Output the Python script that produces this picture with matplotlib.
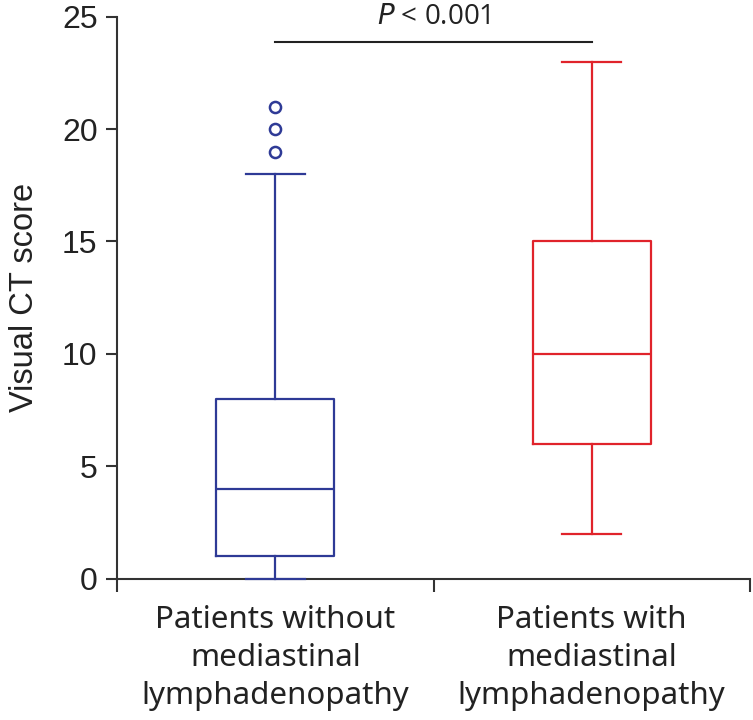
import numpy as np
import matplotlib.pyplot as plt

# box plot summary values
groups = ['Patients without\nmediastinal\nlymphadenopathy',
          'Patients with\nmediastinal\nlymphadenopathy']
whislo = [0, 2]
q1 = [1, 6]
med = [4, 10]
q3 = [8, 15]
whishi = [18, 23]
fliers = [[19, 20, 21], []]
colors = ['#2E3A96', '#E0232B']
p_text = '$\\it{P}$ < 0.001'

fig = plt.figure(figsize=(7.53, 7.2), dpi=100)
ax = fig.add_axes([0.1554, 0.196, 0.8406, 0.781])

for i in range(2):
    st = [{'whislo': whislo[i], 'q1': q1[i], 'med': med[i], 'q3': q3[i],
           'whishi': whishi[i], 'fliers': fliers[i]}]
    c = colors[i]
    bp = ax.bxp(st, positions=[i + 1], widths=0.373, showfliers=True,
                boxprops=dict(color=c, linewidth=1.6),
                medianprops=dict(color=c, linewidth=1.6),
                whiskerprops=dict(color=c, linewidth=1.6),
                capprops=dict(color=c, linewidth=1.6),
                capwidths=0.186,
                flierprops=dict(marker='o', markerfacecolor='none',
                                markeredgecolor=c, markersize=8,
                                markeredgewidth=1.8))
    for k in bp:
        for a in bp[k]:
            a.set_clip_on(False)
            a.set_zorder(3)

ax.set_xlim(0.5, 2.5)
ax.set_ylim(0, 25)
ax.set_yticks([0, 5, 10, 15, 20, 25])
ax.set_xticks([0.5, 1.5, 2.5])
ax.set_xticklabels([])
ax.set_xticks([1, 2], minor=True)
ax.set_xticklabels(groups, minor=True, fontsize=22.5, family='Noto Sans',
                   color='#222222', linespacing=1.34)
ax.tick_params(axis='x', which='minor', length=0, pad=19)
ax.tick_params(axis='x', which='major', length=9, width=1.5, color='#333333')
ax.tick_params(axis='y', length=8, width=1.5, color='#333333', pad=6,
               labelsize=23, labelcolor='#222222')
for lab in ax.get_yticklabels():
    lab.set_family('Liberation Sans')

for s in ['top', 'right']:
    ax.spines[s].set_visible(False)
for s in ['left', 'bottom']:
    ax.spines[s].set_linewidth(1.5)
    ax.spines[s].set_color('#333333')

ax.set_ylabel('Visual CT score', fontsize=23.5, family='Liberation Sans',
              color='#222222', labelpad=16)

# significance bar
ax.plot([1, 2], [23.85, 23.85], color='#222222', lw=1.5, clip_on=False)
ax.text(1.5, 24.35, p_text, ha='center', va='bottom', fontsize=20,
        family='Open Sans', color='#222222')

fig.savefig('out.png', dpi=100)
